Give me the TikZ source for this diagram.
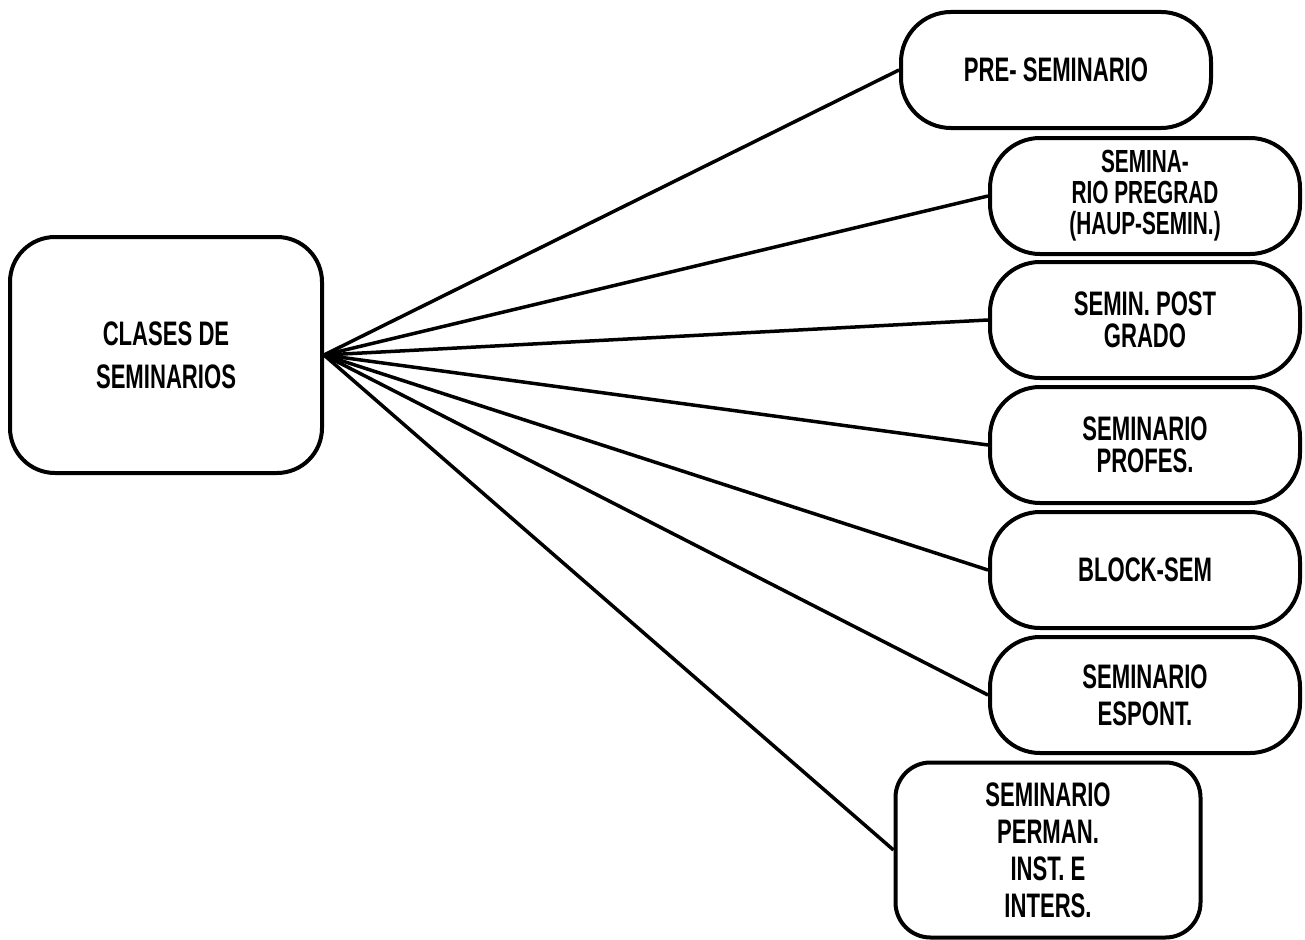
\documentclass[tikz,border=0pt]{standalone}
\usepackage{fontspec}
\setmainfont{Liberation Sans}[FakeStretch=0.65]
\tikzset{
  seminar/.style={draw, line width=4pt, rounded corners=50pt,
    minimum width=310pt, minimum height=116pt, align=center,
    font=\bfseries\fontsize{34}{32}\selectfont},
  link/.style={line width=3.5pt}
}
\begin{document}
\begin{tikzpicture}[x=1pt,y=-1pt]
\useasboundingbox (0,0) rectangle (1305,939);
% Main box
\node[seminar, rounded corners=45pt, minimum width=312pt, minimum height=236pt,
  font=\bfseries\fontsize{34}{43}\selectfont] (clases) at (166,355) {CLASES DE\\SEMINARIOS};
% Kinds of seminar
\node[seminar] (pre) at (1056,70) {PRE- SEMINARIO};
\node[seminar, font=\bfseries\fontsize{32}{31}\selectfont] (pregrad) at (1145,196) {SEMINA-\\RIO PREGRAD\\(HAUP-SEMIN.)};
\node[seminar] (post) at (1145,320) {SEMIN. POST\\GRADO};
\node[seminar] (profes) at (1145,445) {SEMINARIO\\PROFES.};
\node[seminar] (block) at (1145,570) {BLOCK-SEM};
\node[seminar, font=\bfseries\fontsize{34}{37}\selectfont] (espont) at (1145,695) {SEMINARIO\\ESPONT.};
\node[seminar, rounded corners=35pt, minimum width=305pt, minimum height=175pt,
  font=\bfseries\fontsize{34}{37}\selectfont] (perman) at (1048,850) {SEMINARIO\\PERMAN.\\INST. E\\INTERS.};
% Draw links
\draw[link] (clases.east) -- (pre.west);
\draw[link] (clases.east) -- (pregrad.west);
\draw[link] (clases.east) -- (post.west);
\draw[link] (clases.east) -- (profes.west);
\draw[link] (clases.east) -- (block.west);
\draw[link] (clases.east) -- (espont.west);
\draw[link] (clases.east) -- (perman.west);
\end{tikzpicture}
\end{document}
